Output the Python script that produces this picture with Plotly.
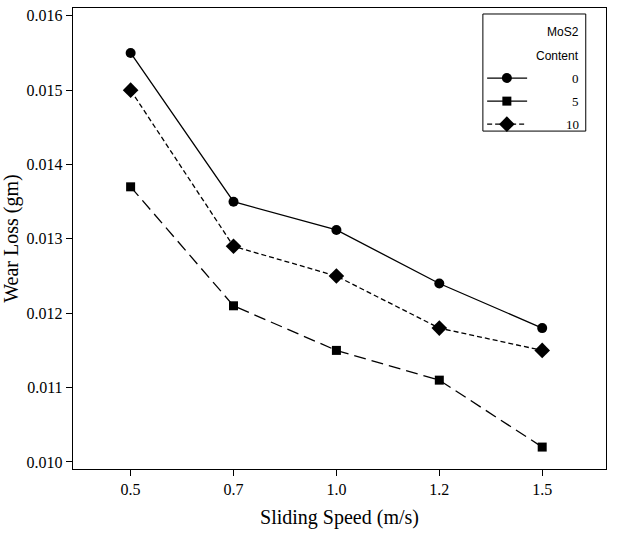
import plotly.graph_objects as go

speeds = ["0.5", "0.7", "1.0", "1.2", "1.5"]
wear_0 = [0.0155, 0.0135, 0.01312, 0.0124, 0.0118]
wear_5 = [0.0137, 0.0121, 0.0115, 0.0111, 0.0102]
wear_10 = [0.0150, 0.0129, 0.0125, 0.0118, 0.0115]
y_ticks = [0.010, 0.011, 0.012, 0.013, 0.014, 0.015, 0.016]
series_names = ["0", "5", "10"]

xpos = list(range(len(speeds)))
styles = [
    dict(symbol="circle", size=10, dash="solid", legdash="solid"),
    dict(symbol="square", size=9, dash="12px,6px", legdash="solid"),
    dict(symbol="diamond", size=12, dash="5px,3px", legdash="5px,3px"),
]
series = [wear_0, wear_5, wear_10]

fig = go.Figure()
for vals, st, name in zip(series, styles, series_names):
    fig.add_trace(go.Scatter(
        x=xpos, y=vals, mode="lines+markers", name=name, showlegend=False,
        line=dict(color="black", width=1.3, dash=st["dash"]),
        marker=dict(symbol=st["symbol"], size=st["size"], color="black"),
    ))

# custom legend (drawn in plot-area fractions via overlay axes)
row_y = [0.848, 0.798, 0.748]
for ry, st, name in zip(row_y, styles, series_names):
    fig.add_trace(go.Scatter(
        x=[0.777, 0.814, 0.852], y=[ry, ry, ry], xaxis="x2", yaxis="y2",
        mode="lines", showlegend=False, hoverinfo="skip",
        line=dict(color="black", width=1.3, dash=st["legdash"]),
    ))
    fig.add_trace(go.Scatter(
        x=[0.814], y=[ry], xaxis="x2", yaxis="y2", mode="markers",
        showlegend=False, hoverinfo="skip",
        marker=dict(symbol=st["symbol"], size=st["size"], color="black"),
    ))
    fig.add_annotation(x=0.953, y=ry, xref="x2", yref="y2", text=name,
                       showarrow=False, xanchor="right", yanchor="middle",
                       font=dict(family="Liberation Serif", size=13, color="black"))

fig.add_annotation(x=0.953, y=0.948, xref="x2", yref="y2", text="MoS2",
                   showarrow=False, xanchor="right", yanchor="middle",
                   font=dict(family="Liberation Sans", size=12, color="black"))
fig.add_annotation(x=0.953, y=0.896, xref="x2", yref="y2", text="Content",
                   showarrow=False, xanchor="right", yanchor="middle",
                   font=dict(family="Liberation Sans", size=12, color="black"))
fig.add_shape(type="rect", xref="x2", yref="y2", x0=0.769, x1=0.962, y0=0.733, y1=0.987,
              line=dict(color="black", width=1), fillcolor="rgba(0,0,0,0)")

fig.update_layout(
    width=621, height=536,
    margin=dict(l=73, r=15, t=8, b=67, autoexpand=False),
    paper_bgcolor="white", plot_bgcolor="white",
    font=dict(family="Liberation Serif", color="black"),
    hovermode=False,
    xaxis=dict(
        range=[-0.56, 4.62], tickmode="array", tickvals=xpos, ticktext=speeds,
        ticks="outside", ticklen=6, tickwidth=1, tickcolor="black",
        showline=True, linecolor="black", linewidth=1.2, mirror=True,
        showgrid=False, zeroline=False, automargin=False,
        tickfont=dict(family="Liberation Serif", size=16),
        title=dict(text="Sliding Speed (m/s)", font=dict(family="Liberation Serif", size=20), standoff=12),
    ),
    yaxis=dict(
        range=[0.009905, 0.016105], tickmode="array", tickvals=y_ticks,
        ticktext=[f"{v:.3f}" for v in y_ticks],
        ticks="outside", ticklen=6, tickwidth=1, tickcolor="black",
        showline=True, linecolor="black", linewidth=1.2, mirror=True,
        showgrid=False, zeroline=False, automargin=False,
        tickfont=dict(family="Liberation Serif", size=16),
        title=dict(text="Wear Loss (gm)", font=dict(family="Liberation Serif", size=20), standoff=3),
    ),
    xaxis2=dict(overlaying="x", range=[0, 1], visible=False, fixedrange=True),
    yaxis2=dict(overlaying="y", range=[0, 1], visible=False, fixedrange=True),
)

fig.write_html(
    "out.html",
    config={"displayModeBar": False, "staticPlot": True},
    post_script="document.body.style.margin='0';document.body.style.overflow='hidden';",
)
